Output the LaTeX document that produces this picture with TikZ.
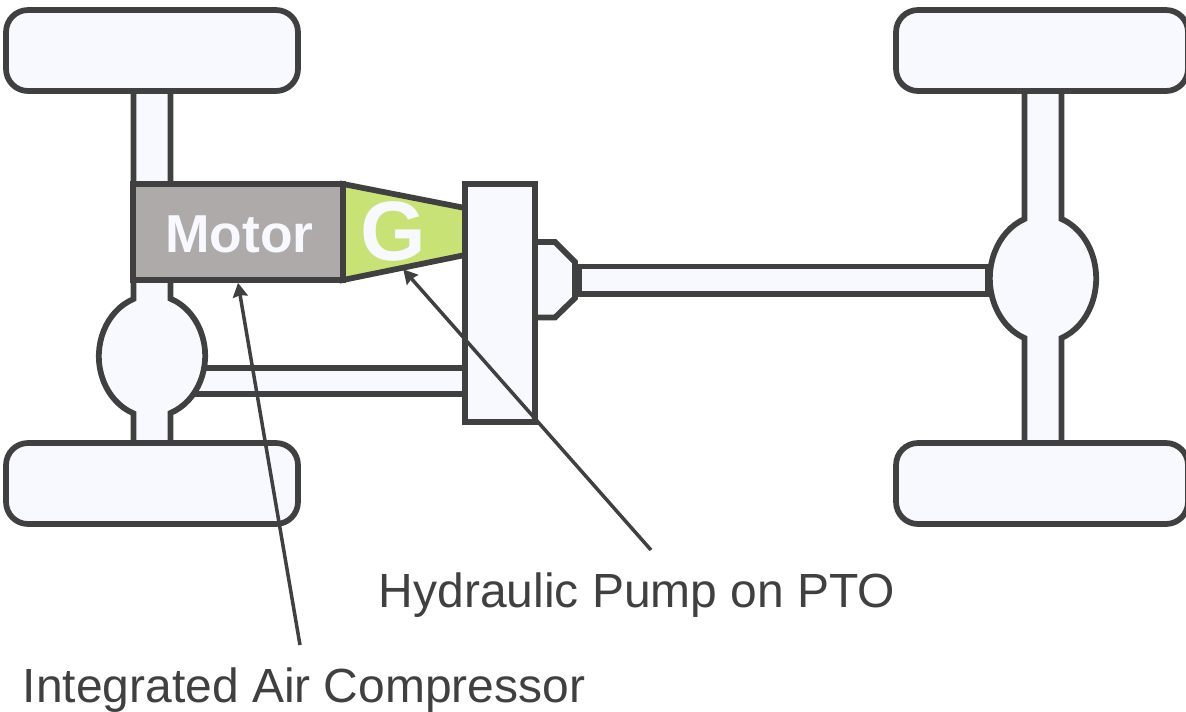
\documentclass[tikz,border=0pt]{standalone}
\usepackage{fontspec}
\usepackage{xcolor}
\usetikzlibrary{arrows.meta}
\setmainfont{Liberation Sans}
\definecolor{linegray}{HTML}{404040}
\definecolor{partfill}{HTML}{F8F9FF}
\definecolor{motorgray}{HTML}{AEAAA9}
\definecolor{pumpgreen}{HTML}{C9E276}

\begin{document}
\begin{tikzpicture}[
    x=0.02cm, y=-0.02cm,
    part/.style={draw=linegray, fill=partfill, line width=0.115cm, line join=miter},
    wheel/.style={part, rectangle, rounded corners=0.44cm, minimum width=5.84cm, minimum height=1.62cm},
    callout/.style={-{Stealth[length=0.28cm, width=0.3cm, inset=0.03cm]}, linegray, line width=0.07cm},
    label/.style={text=linegray, font=\fontsize{27.3}{32}\selectfont, inner sep=0pt}
]
    \useasboundingbox (0,0) rectangle (1186,711);

    % Wheels
    \node[wheel] (wheelTL) at (152,50.5) {};
    \node[wheel] (wheelBL) at (152,483.5) {};
    \node[wheel] (wheelTR) at (1042,50.5) {};
    \node[wheel] (wheelBR) at (1042,483.5) {};

    % Shaft to front differential
    \draw[part] (190,368) -- (465,368) -- (465,394) -- (190,394);

    % Front axle with differential
    \draw[part] (133.5,91) -- (133.5,299) arc[start angle=-110.4, end angle=-249.6, x radius=53.2, y radius=61]
        -- (133.5,443) -- (170.5,443) -- (170.5,413) arc[start angle=69.6, end angle=-69.6, x radius=53.2, y radius=61]
        -- (170.5,91) -- cycle;

    % Rear axle with differential
    \draw[part] (1024.5,91) -- (1024.5,219) arc[start angle=-110.4, end angle=-249.6, x radius=53.2, y radius=63.5]
        -- (1024.5,443) -- (1061.5,443) -- (1061.5,338) arc[start angle=69.6, end angle=-69.6, x radius=53.2, y radius=63.5]
        -- (1061.5,91) -- cycle;

    % PTO housing and main shaft
    \draw[part] (535,242) -- (555,242) -- (575,262) -- (575,298) -- (555,317.5) -- (535,317.5);
    \draw[part] (579,266.5) rectangle (987.5,294);

    % Pump wedge and gearbox
    \draw[part, fill=pumpgreen] (343,184) -- (465,208) -- (465,255) -- (343,280) -- cycle;
    \node[rectangle, text=partfill, minimum height=1.52cm, font=\fontsize{48}{48}\selectfont\bfseries, inner sep=0pt] (pump) at (393,231) {G};
    \node[part, rectangle, minimum width=1.4cm, minimum height=4.76cm] (gearbox) at (500,303) {};

    % Motor
    \node[part, rectangle, fill=motorgray, text=partfill, minimum width=4.2cm, minimum height=1.92cm, text height=0.82cm,
        font=\fontsize{30.4}{30}\selectfont\bfseries] (motor) at (238,232) {\kern0.05cm Motor};

    % Labels and callouts
    \node[label] (pumplabel) at (637,595) {Hydraulic Pump on PTO};
    \node[label] (airlabel) at (304,690) {Integrated Air Compressor};
    \coordinate (pumpend) at (651,550);
    \coordinate (airend) at (300,645);
    \draw[callout] (pumpend) -- (pump.-75);
    \draw[callout] (airend) -- (motor.south);
\end{tikzpicture}
\end{document}
